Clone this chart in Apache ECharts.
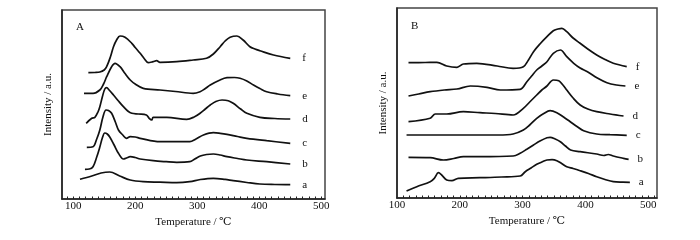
<!DOCTYPE html>
<html><head><meta charset="utf-8">
<script src="https://cdn.jsdelivr.net/npm/echarts@6/dist/echarts.min.js"></script>
<style>html,body{margin:0;padding:0;background:#fff}#c{width:700px;height:240px}</style>
</head><body><div id="c"></div>
<script>
// Panel A series: [temperature, intensity]
const A_a = [[111,19.7],[130,23],[145,26],[159,27],[175,23],[192,19],[213,17.3],[240,16.8],[267,16.3],[288,17.3],[305,19.5],[326,20.7],[345,19.6],[358,18.3],[380,16.5],[401,15],[425,14.5],[450,14.3]];
const A_b = [[119,29.7],[126,30],[132,32.3],[138,42],[143,52],[147,61],[151,66],[155,65],[159,62],[166,54],[173,45.7],[181,40],[186,41],[192,42.3],[200,41.5],[208,40],[229,38.3],[250,37.3],[267,36.7],[288,37.3],[296,40],[305,43],[315,44.5],[326,45],[337,44],[348,42.3],[365,40.5],[380,39],[412,37.3],[450,35]];
const A_c = [[122,51.7],[132,52.3],[138,60],[143,69],[148,82],[153,89],[157,88.5],[162,85.7],[168,77],[173,69],[180,64],[186,60.7],[192,62.3],[200,62],[208,60.7],[240,57.3],[265,57.3],[288,57.3],[298,60],[310,64],[326,66.3],[337,65.7],[348,64.7],[365,62.5],[380,60.7],[412,58.3],[450,55.7]];
const A_d = [[121,75.7],[130,80.7],[135,81.7],[140,87],[143,92.3],[147,102],[151,110],[154,111.3],[158,109],[165,104],[173,98],[181,92.3],[188,88],[194.5,85.7],[205,85],[218,84],[222.5,80.7],[226.7,79],[229,81.7],[251,81.7],[283,79.7],[295,82],[304.6,85.7],[313,90],[321,94],[330,97.5],[340,99],[350,98.3],[358,95.7],[370,90],[380,85.7],[401,81.7],[425,80.5],[450,80]];
const A_e = [[117.5,105.7],[132,105.7],[143,109],[149,115],[154,122.3],[162,132.3],[167.5,135.7],[175.5,132.3],[183,126],[192,119],[200,115],[213,110.7],[240,109],[265,107.5],[293.5,105.7],[304.6,107.3],[312,110],[321,114],[335,118.5],[348,121.3],[360,121.5],[369,120.7],[380,118],[390.7,114],[401,110.5],[412,107.3],[430,105],[450,103.3]];
const A_f = [[124.5,126.3],[135,126.5],[143,127],[150,129],[154,132.3],[160,142],[165,152.3],[170,159],[175.5,163],[183.6,161.7],[194.5,155.7],[200,151.5],[208,145.7],[215,140],[221,136.3],[229,137.3],[234.5,138.3],[240,136.7],[267,137.3],[293.5,139],[315,140.7],[326,145],[337,152.3],[345,158],[353,161.7],[364,163],[374,159],[385,152.3],[393,150],[401,148.3],[423,144],[450,140.7]];
// Panel B series
const B_a = [[115.2,7],[131.5,11.3],[152.8,16.3],[159.4,19.7],[166,25.3],[171.1,23],[179.2,18],[187.4,17.3],[197.5,19.7],[232.1,20.3],[266.6,21],[296.1,22],[304.2,26.3],[313.4,30],[322.5,33.7],[330.6,36],[338.8,38],[346.9,38.3],[354.5,37.3],[362.1,34.5],[370.3,31.3],[380.4,29.5],[391.6,27.3],[404.8,24.5],[418,21.3],[431.2,18.5],[444.4,16.3],[459.7,15.8],[470.8,15.7]];
const B_b = [[118.3,40.7],[152.8,40.3],[173.8,38],[190.4,39.5],[205.7,41.3],[232.1,41.3],[284.9,42],[296.1,44.7],[307.3,49],[317.4,53],[327.6,57],[338.8,60.3],[343.8,60.7],[351.9,59],[360.1,56.3],[368.2,52],[376.4,48],[391.6,46.3],[418,44],[429.2,42.5],[436.3,43.5],[444.4,42],[460.7,39.7],[468.8,38.7]];
const B_c = [[115.2,63],[175.2,63],[232.1,63],[261.5,63],[284.9,64],[301.2,68],[311.3,73],[322.5,79.7],[333.7,84.5],[343.8,87.3],[354.5,85.3],[365.2,81],[375.8,76.3],[386.5,71.5],[397.2,67.3],[418,64],[439.3,63.3],[465.8,62.7]];
const B_d = [[118.3,76.3],[152.8,79.7],[161,84],[179.2,84],[205.7,86.3],[232.1,85.3],[256.5,84.5],[284.9,83],[301.2,89.7],[311.3,96],[322.5,103],[330.6,108],[338.8,112],[348.9,118],[357.6,117.3],[364.2,113],[370.3,108],[380.4,100],[391.6,93],[403.8,89],[418,86.3],[439.3,84],[460.7,82]];
const B_e = [[118.3,102],[134.5,104],[152.8,106.3],[175.2,108],[195.5,109],[216.8,112],[243.3,110.7],[264.6,108],[296.1,108.7],[306.8,116.3],[314.4,122],[322.5,128],[330.6,132],[338.8,136.3],[348.9,144.7],[360.1,148],[370.3,141.3],[381.4,134.7],[391.6,130],[403.2,126.3],[419,120],[434.3,115.3],[449.5,113],[463.7,112]];
const B_f = [[118.3,135.3],[144.7,135.5],[163.5,135.7],[179.2,132],[195.5,130.7],[205.7,134],[227,134.7],[259.5,132],[284.9,129.7],[301.2,131.3],[309.3,138],[317.4,146.3],[327.6,154],[338.8,161.3],[348.9,167.3],[356.4,169],[362.6,169.7],[370.3,166.3],[380.4,160],[391.6,154.7],[403.8,149],[418,143],[431.2,138.5],[444.4,134.7],[465.8,131.3]];
const seriesNames = ['a','b','c','d','e','f'];
const xTickLabels = [100,200,300,400,500];

const A_data = [A_a,A_b,A_c,A_d,A_e,A_f];
const B_data = [B_a,B_b,B_c,B_d,B_e,B_f];

const serif = '"Liberation Serif","DejaVu Serif",serif';
const minorTicksA = []; for (let v=90; v<=500; v+=10) minorTicksA.push(v);
const minorTicksB = []; for (let v=110; v<=510; v+=10) minorTicksB.push(v);

function xAxis(gi, min, max, ticks){
  return {type:'value', gridIndex:gi, min:min, max:max,
    name:'Temperature / ℃', nameLocation:'middle', nameGap:14,
    nameTextStyle:{fontFamily:serif, fontSize:11, color:'#111'},
    axisLine:{show:true, onZero:false, lineStyle:{color:'#222', width:1.5}},
    axisTick:{show:true, inside:true, length:2.5, customValues:ticks, lineStyle:{color:'#222', width:1}},
    axisLabel:{show:true, customValues:xTickLabels, fontFamily:serif, fontSize:11, color:'#111', margin:2},
    splitLine:{show:false}};
}
function yAxis(gi, max){
  return {type:'value', gridIndex:gi, min:0, max:max,
    name:'Intensity / a.u.', nameLocation:'middle', nameGap:8, nameRotate:90,
    nameTextStyle:{fontFamily:serif, fontSize:11, color:'#111'},
    axisLine:{show:true, lineStyle:{color:'#222', width:1.5}},
    axisTick:{show:false}, axisLabel:{show:false}, splitLine:{show:false}};
}
function mk(data, gi, dist){
  return data.map((d,i)=>({type:'line', xAxisIndex:gi, yAxisIndex:gi, data:d, smooth:0.35,
    showSymbol:false, symbol:'none', lineStyle:{color:'#111', width:1.7},
    endLabel:{show:true, formatter:seriesNames[i], distance:dist, fontFamily:serif, fontSize:11, color:'#111'},
    animation:false}));
}
const chart = echarts.init(document.getElementById('c'), null, {renderer:'canvas'});
chart.setOption({
  backgroundColor:'#fff',
  animation:false,
  grid:[
    {left:62, top:10, width:263, height:189, show:true, borderColor:'#444', borderWidth:1.5},
    {left:397, top:8, width:260, height:190, show:true, borderColor:'#444', borderWidth:1.5}
  ],
  xAxis:[xAxis(0,82,506,minorTicksA), xAxis(1,100,514,minorTicksB)],
  yAxis:[yAxis(0,189), yAxis(1,190)],
  graphic:[
    {type:'text', left:76, top:22, style:{text:'A', font:'11px '+serif, fill:'#111'}},
    {type:'text', left:411, top:21, style:{text:'B', font:'11px '+serif, fill:'#111'}}
  ],
  series:[...mk(A_data,0,12), ...mk(B_data,1,9)]
});
</script></body></html>
